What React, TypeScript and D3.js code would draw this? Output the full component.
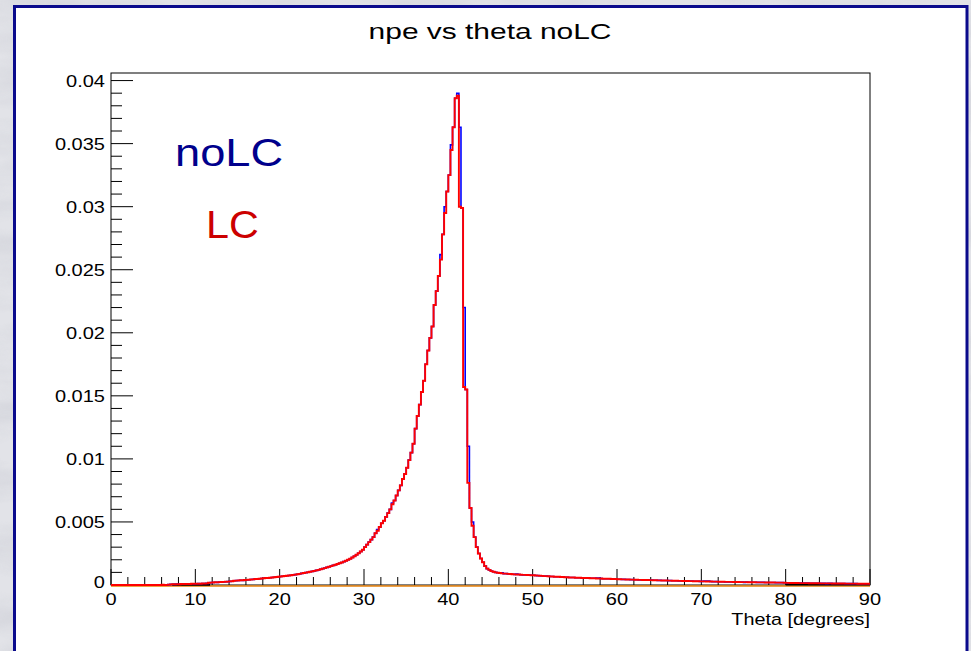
import React from 'react';
import * as d3 from 'd3';

// Histogram of photo-electron yield versus Cherenkov angle, 0.25 degree bins
const BIN_WIDTH = 0.25;
const THETA_MIN = 0;
const THETA_MAX = 90;

const lcValues: number[] = [
  // 0 - 5 deg
  0, 0, 0, 0, 0, 0, 0, 0, 0, 0, 0, 0, 0, 0, 0, 0, 0, 0, 0, 0,
  // 5 - 10
  0, 0, 0, 0, 0.00002, 0, 0.00001, 0.00003, 0.00005, 0.00006, 0.00005, 0.00007, 0.00006, 0.00008, 0.00007, 0.00008, 0.00009, 0.00008, 0.0001, 0.00009,
  // 10 - 15
  0.0001, 0.00011, 0.0001, 0.00012, 0.00012, 0.00013, 0.00018, 0.00019, 0.0002, 0.00022, 0.00021, 0.00023, 0.00024, 0.00025, 0.00026, 0.00027, 0.00029, 0.0003, 0.00034, 0.00035,
  // 15 - 20
  0.00036, 0.00038, 0.00037, 0.0004, 0.00041, 0.00042, 0.00044, 0.00045, 0.00047, 0.00048, 0.0005, 0.00051, 0.00053, 0.00055, 0.00056, 0.00058, 0.0006, 0.00061, 0.00063, 0.00066,
  // 20 - 25
  0.00067, 0.00069, 0.00071, 0.00073, 0.00075, 0.00077, 0.0008, 0.00082, 0.00085, 0.00088, 0.00092, 0.00095, 0.00098, 0.00101, 0.00105, 0.00108, 0.00112, 0.00116, 0.0012, 0.00125,
  // 25 - 30
  0.0013, 0.00134, 0.0014, 0.00145, 0.0015, 0.00156, 0.0016, 0.00166, 0.00172, 0.00178, 0.00185, 0.00192, 0.002, 0.00208, 0.00218, 0.00228, 0.0024, 0.00252, 0.00266, 0.0028,
  // 30 - 35
  0.003, 0.0032, 0.0034, 0.0036, 0.0038, 0.0041, 0.0043, 0.0046, 0.0049, 0.0051, 0.0054, 0.0057, 0.006, 0.0064, 0.0067, 0.0071, 0.0075, 0.0079, 0.0084, 0.0088,
  // 35 - 40
  0.0093, 0.0099, 0.0105, 0.0112, 0.0124, 0.0134, 0.0143, 0.0153, 0.0162, 0.0175, 0.0186, 0.0196, 0.0205, 0.0222, 0.0233, 0.0245, 0.0258, 0.0278, 0.0295, 0.0312,
  // 40 - 45
  0.0325, 0.0345, 0.0363, 0.0386, 0.0388, 0.03, 0.0299, 0.0157, 0.0155, 0.0081, 0.0061, 0.0047, 0.0038, 0.003, 0.0025, 0.0021, 0.0018, 0.0015, 0.0013, 0.0012,
  // 45 - 50
  0.0011, 0.00105, 0.001, 0.00097, 0.00095, 0.00092, 0.0009, 0.0009, 0.00088, 0.00087, 0.00085, 0.00084, 0.00083, 0.00083, 0.00081, 0.0008, 0.0008, 0.00079, 0.00078, 0.00077,
  // 50 - 55
  0.00077, 0.00075, 0.00074, 0.00073, 0.00072, 0.0007, 0.0007, 0.00069, 0.00068, 0.00067, 0.00066, 0.00065, 0.00065, 0.00064, 0.00063, 0.00062, 0.00061, 0.0006, 0.0006, 0.00059,
  // 55 - 60
  0.00058, 0.00058, 0.00057, 0.00056, 0.00056, 0.00055, 0.00055, 0.00054, 0.00053, 0.00053, 0.00052, 0.00052, 0.00051, 0.0005, 0.0005, 0.00049, 0.00049, 0.00048, 0.00047, 0.00047,
  // 60 - 65
  0.00046, 0.00046, 0.00045, 0.00045, 0.00044, 0.00044, 0.00043, 0.00043, 0.00042, 0.00042, 0.00041, 0.00041, 0.0004, 0.0004, 0.0004, 0.00039, 0.00039, 0.00038, 0.00038, 0.00037,
  // 65 - 70
  0.00037, 0.00036, 0.00036, 0.00036, 0.00035, 0.00035, 0.00034, 0.00034, 0.00034, 0.00033, 0.00033, 0.00032, 0.00032, 0.00032, 0.00031, 0.00031, 0.0003, 0.0003, 0.0003, 0.00029,
  // 70 - 75
  0.00029, 0.00029, 0.00028, 0.00028, 0.00028, 0.00027, 0.00027, 0.00027, 0.00026, 0.00026, 0.00026, 0.00025, 0.00025, 0.00025, 0.00025, 0.00024, 0.00024, 0.00024, 0.00023, 0.00023,
  // 75 - 80
  0.00023, 0.00023, 0.00022, 0.00022, 0.00022, 0.00022, 0.00021, 0.00021, 0.00021, 0.00021, 0.0002, 0.0002, 0.0002, 0.0002, 0.0002, 0.00019, 0.00019, 0.00019, 0.00019, 0.00018,
  // 80 - 85
  0.00017, 0.00017, 0.00016, 0.00016, 0.00016, 0.00016, 0.00015, 0.00015, 0.00015, 0.00015, 0.00015, 0.00014, 0.00014, 0.00014, 0.00014, 0.00014, 0.00013, 0.00013, 0.00013, 0.00013,
  // 85 - 90
  0.00013, 0.00013, 0.00012, 0.00012, 0.00012, 0.00012, 0.00012, 0.00012, 0.00011, 0.00011, 0.00011, 0.00011, 0.00011, 0.00011, 0.0001, 0.0001, 0.0001, 0.0001, 0.0001, 0.0001,
];

// Bins where the noLC histogram differs from the LC one: [bin index, value]
const noLcDifferences: [number, number][] = [
  [126, 0.0044], [133, 0.0065], [156, 0.0262], [158, 0.03], [161, 0.0349],
  [164, 0.039], [165, 0.0363], [167, 0.022], [169, 0.011], [171, 0.005],
  [185, 0.00096], [192, 0.00087], [230, 0.00055], [231, 0.00055],
  [281, 0.00031], [282, 0.00031], [283, 0.00031], [300, 0.00021], [339, 0.00011],
];

// Low-level black histogram segments lying along the baseline: [from, to, value]
const baselineSegments: [number, number, number][] = [
  [7.25, 11.75, 0.00006],
  [80, 90, 0.00007],
];

const Y_MAX = 0.0406;
const yMajorTicks = [0, 0.005, 0.01, 0.015, 0.02, 0.025, 0.03, 0.035, 0.04];
const yTickLabels = ['0', '0.005', '0.01', '0.015', '0.02', '0.025', '0.03', '0.035', '0.04'];
const xMajorTicks = [0, 10, 20, 30, 40, 50, 60, 70, 80, 90];
const xTickLabels = ['0', '10', '20', '30', '40', '50', '60', '70', '80', '90'];

const TITLE = 'npe vs theta noLC';
const X_TITLE = 'Theta [degrees]';
const LEGEND_NOLC = 'noLC';
const LEGEND_LC = 'LC';

const W = 971;
const H = 651;
const FONT = '"Liberation Sans", Arial, Helvetica, sans-serif';

const plot = { left: 111, right: 870, top: 73, bottom: 585 };

export default function App() {
  const x = d3.scaleLinear().domain([THETA_MIN, THETA_MAX]).range([plot.left, plot.right]);
  const y = d3.scaleLinear().domain([0, Y_MAX]).range([plot.bottom, plot.top]);

  const noLcValues = lcValues.slice();
  noLcDifferences.forEach(([i, v]) => {
    noLcValues[i] = v;
  });

  const histLine = d3
    .line<[number, number]>()
    .x((d) => x(d[0]))
    .y((d) => y(d[1]))
    .curve(d3.curveStepAfter);

  const toPoints = (vals: number[]): [number, number][] => {
    const pts: [number, number][] = [[THETA_MIN, 0]];
    vals.forEach((v, i) => pts.push([THETA_MIN + i * BIN_WIDTH, v]));
    pts.push([THETA_MAX, vals[vals.length - 1]]);
    return pts;
  };

  const yMinorTicks = d3.range(0, Y_MAX + 1e-9, 0.001).filter(
    (v) => !yMajorTicks.some((m) => Math.abs(m - v) < 1e-9)
  );
  const xMinorTicks = d3.range(THETA_MIN, THETA_MAX + 1e-9, 2).filter((v) => v % 10 !== 0);

  const yMajLen = 22;
  const xMajLen = 16;

  const stretched = (
    tx: number,
    ty: number,
    sx: number,
    content: string,
    props: React.SVGProps<SVGTextElement>
  ) => (
    <text transform={`translate(${tx},${ty}) scale(${sx},1)`} fontFamily={FONT} {...props}>
      {content}
    </text>
  );

  return (
    <svg
      width={W}
      height={H}
      viewBox={`0 0 ${W} ${H}`}
      style={{ position: 'absolute', left: 0, top: 0, display: 'block' }}
    >
      <defs>
        <filter id="marble" x="0" y="0" width="100%" height="100%">
          <feTurbulence type="fractalNoise" baseFrequency="0.008 0.03" numOctaves={4} seed={7} />
          <feColorMatrix
            type="matrix"
            values="0 0 0 0 0.55  0 0 0 0 0.56  0 0 0 0 0.62  1.3 0 0 0 -0.5"
          />
        </filter>
      </defs>

      {/* textured window background */}
      <rect x={0} y={0} width={W} height={H} fill="#e2e3e8" />
      <rect x={0} y={0} width={W} height={H} filter="url(#marble)" opacity={0.7} />

      {/* canvas with dark blue border */}
      <rect x={14.5} y={6.5} width={952.5} height={H + 20} fill="#ffffff" stroke="#0a0a8c" strokeWidth={3} />

      {/* title */}
      {stretched(490, 39, 1.36, TITLE, { fontSize: 22, textAnchor: 'middle', fill: '#000' })}

      {/* frame */}
      <rect
        x={plot.left}
        y={plot.top}
        width={plot.right - plot.left}
        height={plot.bottom - plot.top}
        fill="none"
        stroke="#000"
        strokeWidth={1}
      />

      {/* y axis ticks and labels */}
      {yMajorTicks.map((v, i) => (
        <g key={`ym${i}`}>
          <line x1={plot.left} x2={plot.left + yMajLen} y1={y(v)} y2={y(v)} stroke="#000" strokeWidth={1} />
          {stretched(105, y(v) + (v === 0 ? 3 : 6), 1.25, yTickLabels[i], {
            fontSize: 16,
            textAnchor: 'end',
            fill: '#000',
          })}
        </g>
      ))}
      {yMinorTicks.map((v, i) => (
        <line key={`yn${i}`} x1={plot.left} x2={plot.left + yMajLen / 2} y1={y(v)} y2={y(v)} stroke="#000" strokeWidth={1} />
      ))}

      {/* x axis ticks and labels */}
      {xMajorTicks.map((v, i) => (
        <g key={`xm${i}`}>
          <line x1={x(v)} x2={x(v)} y1={plot.bottom} y2={plot.bottom - xMajLen} stroke="#000" strokeWidth={1} />
          {stretched(x(v), 605, 1.25, xTickLabels[i], { fontSize: 16, textAnchor: 'middle', fill: '#000' })}
        </g>
      ))}
      {xMinorTicks.map((v, i) => (
        <line key={`xn${i}`} x1={x(v)} x2={x(v)} y1={plot.bottom} y2={plot.bottom - xMajLen / 2} stroke="#000" strokeWidth={1} />
      ))}

      {stretched(plot.right, 625, 1.2, X_TITLE, { fontSize: 16.5, textAnchor: 'end', fill: '#000' })}

      {/* baseline histogram */}
      <line x1={x(THETA_MIN)} x2={x(THETA_MAX)} y1={y(0) + 1} y2={y(0) + 1} stroke="#e8820a" strokeWidth={1.6} />
      {baselineSegments.map(([a, b, v], i) => (
        <line key={`bs${i}`} x1={x(a)} x2={x(b)} y1={y(v) + 0.5} y2={y(v) + 0.5} stroke="#000" strokeWidth={2} />
      ))}

      {/* noLC and LC histograms */}
      <path d={histLine(toPoints(noLcValues)) ?? ''} fill="none" stroke="#0000ff" strokeWidth={1.6} />
      <path d={histLine(toPoints(lcValues)) ?? ''} fill="none" stroke="#ff0000" strokeWidth={1.9} />

      {/* legend labels */}
      {stretched(175, 166, 1.16, LEGEND_NOLC, { fontSize: 39, textAnchor: 'start', fill: '#00008c' })}
      {stretched(206, 238, 1.06, LEGEND_LC, { fontSize: 39, textAnchor: 'start', fill: '#cc0000' })}
    </svg>
  );
}
